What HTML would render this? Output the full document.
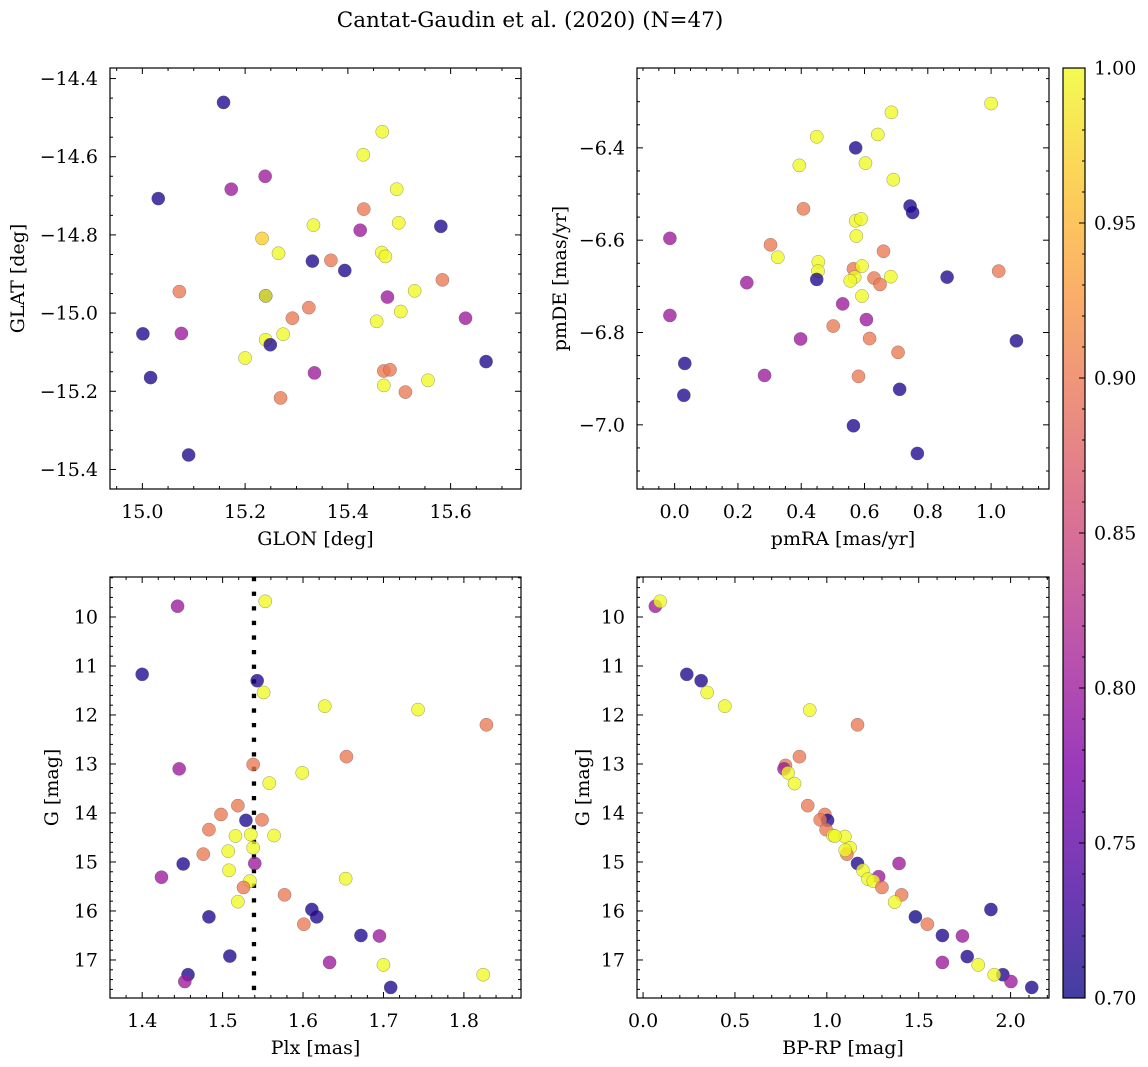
<!DOCTYPE html>
<html><head><meta charset="utf-8"><style>
body{margin:0;background:#fff;}
svg{display:block;font-family:"DejaVu Serif","Liberation Serif",serif;}
</style></head><body>
<svg id="fig" width="1148" height="1067" viewBox="0 0 1148 1067" xmlns="http://www.w3.org/2000/svg">
<text x="530" y="27" font-size="21.5" text-anchor="middle">Cantat-Gaudin et al. (2020) (N=47)</text>
</svg>
<script>
// ---- data ----
const glon = [15.158,15.031,15.173,15.239,15.467,15.430,15.495,15.431,15.333,15.499,15.581,15.424,15.233,15.265,15.331,15.367,15.394,15.466,15.473,15.584,15.072,15.240,15.240,15.530,15.477,15.324,15.292,15.001,15.076,15.503,15.456,15.629,15.274,15.240,15.249,15.200,15.016,15.335,15.470,15.482,15.669,15.470,15.556,15.512,15.269,15.090];
const glat = [-14.461,-14.707,-14.683,-14.650,-14.536,-14.595,-14.683,-14.734,-14.775,-14.769,-14.778,-14.788,-14.809,-14.847,-14.867,-14.865,-14.891,-14.845,-14.855,-14.915,-14.945,-14.956,-14.956,-14.943,-14.959,-14.986,-15.013,-15.053,-15.052,-14.996,-15.021,-15.013,-15.054,-15.068,-15.081,-15.115,-15.165,-15.153,-15.148,-15.145,-15.124,-15.185,-15.172,-15.202,-15.217,-15.363];
const prob1 = [0.71,0.71,0.80,0.80,1.0,1.0,1.0,0.90,1.0,1.0,0.71,0.80,0.97,1.0,0.71,0.90,0.71,1.0,1.0,0.90,0.90,0.71,1.0,1.0,0.80,0.90,0.90,0.71,0.80,1.0,1.0,0.80,1.0,1.0,0.71,1.0,0.71,0.80,0.90,0.90,0.71,1.0,1.0,0.90,0.90,0.71];

const pmra = [1.00,0.685,0.449,0.642,0.572,0.394,0.603,0.691,0.744,0.752,0.407,0.572,0.589,0.574,-0.015,0.303,0.660,0.326,0.454,0.453,0.449,0.565,0.592,0.569,0.555,0.630,0.649,0.683,0.861,1.024,0.228,0.592,0.531,-0.015,0.606,0.501,0.398,0.616,1.080,0.706,0.032,0.284,0.581,0.711,0.029,0.565,0.767];
const pmde = [-6.304,-6.323,-6.376,-6.371,-6.400,-6.438,-6.433,-6.469,-6.526,-6.540,-6.532,-6.558,-6.554,-6.591,-6.596,-6.610,-6.624,-6.637,-6.647,-6.667,-6.685,-6.662,-6.656,-6.680,-6.688,-6.682,-6.696,-6.679,-6.680,-6.667,-6.692,-6.721,-6.738,-6.763,-6.772,-6.786,-6.814,-6.813,-6.818,-6.843,-6.867,-6.893,-6.895,-6.923,-6.936,-7.002,-7.062];
const prob2 = [1.0,1.0,1.0,1.0,0.71,1.0,1.0,1.0,0.71,0.71,0.90,1.0,1.0,1.0,0.80,0.90,0.90,1.0,1.0,1.0,0.71,0.90,1.0,1.0,1.0,0.90,0.90,1.0,0.71,0.90,0.80,1.0,0.80,0.80,0.80,0.90,0.80,0.90,0.71,0.90,0.71,0.80,0.90,0.71,0.71,0.71,0.71];

const plx = [1.553,1.444,1.400,1.543,1.551,1.627,1.743,1.828,1.654,1.538,1.446,1.599,1.558,1.519,1.498,1.529,1.549,1.483,1.516,1.535,1.564,1.538,1.476,1.507,1.451,1.540,1.424,1.508,1.534,1.653,1.526,1.577,1.519,1.611,1.617,1.483,1.601,1.672,1.695,1.509,1.633,1.700,1.824,1.457,1.453,1.709];
const gmag3 = [9.68,9.78,11.17,11.30,11.54,11.82,11.89,12.20,12.85,13.01,13.10,13.18,13.39,13.85,14.03,14.15,14.14,14.34,14.47,14.44,14.46,14.71,14.84,14.78,15.04,15.03,15.31,15.17,15.39,15.34,15.52,15.67,15.81,15.97,16.12,16.12,16.27,16.50,16.51,16.92,17.05,17.10,17.30,17.30,17.44,17.56];
const prob3 = [1.0,0.80,0.71,0.71,1.0,1.0,1.0,0.90,0.90,0.90,0.80,1.0,1.0,0.90,0.90,0.71,0.90,0.90,1.0,1.0,1.0,1.0,0.90,1.0,0.71,0.80,0.80,1.0,1.0,1.0,0.90,0.90,1.0,0.71,0.71,0.71,0.90,0.71,0.80,0.71,0.80,1.0,1.0,0.71,0.80,0.71];
const plxLine = [1.539];

const bprp = [0.067,0.093,0.238,0.316,0.349,0.445,0.907,1.167,0.851,0.775,0.767,0.789,0.824,0.896,0.989,1.004,0.964,0.996,1.098,1.033,1.044,1.127,1.109,1.100,1.167,1.393,1.282,1.196,1.224,1.253,1.300,1.407,1.369,1.893,1.482,1.547,1.629,1.738,1.764,1.629,1.824,1.958,1.911,2.002,2.115];
const gmag4 = [9.78,9.68,11.17,11.30,11.54,11.82,11.90,12.20,12.85,13.03,13.10,13.18,13.40,13.85,14.03,14.15,14.14,14.34,14.48,14.46,14.47,14.71,14.84,14.76,15.03,15.03,15.30,15.17,15.35,15.39,15.52,15.67,15.82,15.97,16.12,16.27,16.50,16.51,16.93,17.05,17.10,17.30,17.30,17.44,17.56];
const prob4 = [0.80,1.0,0.71,0.71,1.0,1.0,1.0,0.90,0.90,0.90,0.80,1.0,1.0,0.90,0.90,0.71,0.90,0.90,1.0,1.0,1.0,1.0,0.90,1.0,0.71,0.80,0.80,1.0,1.0,1.0,0.90,0.90,1.0,0.71,0.70,0.90,0.71,0.80,0.71,0.80,1.0,0.71,1.0,0.80,0.71];

const xTicks1 = [15.0,15.2,15.4,15.6];
const yTicks1 = [-14.4,-14.6,-14.8,-15.0,-15.2,-15.4];
const xTicks2 = [0.0,0.2,0.4,0.6,0.8,1.0];
const yTicks2 = [-6.4,-6.6,-6.8,-7.0];
const xTicks3 = [1.4,1.5,1.6,1.7,1.8];
const gTicks = [10,11,12,13,14,15,16,17];
const xTicks4 = [0.0,0.5,1.0,1.5,2.0];
const cbTicks = [0.70,0.75,0.80,0.85,0.90,0.95,1.00];

// ---- rendering ----
const NS = "http://www.w3.org/2000/svg";
const svg = document.getElementById('fig');
const FS = 19;
function mk(tag, attrs, parent){
  const e = document.createElementNS(NS, tag);
  for (const k in attrs) e.setAttribute(k, attrs[k]);
  (parent||svg).appendChild(e);
  return e;
}
const stops = [[0,'#0d0887'],[0.125,'#4c02a1'],[0.25,'#7e03a8'],[0.375,'#a92395'],[0.5,'#cc4778'],[0.625,'#e56b5d'],[0.75,'#f89540'],[0.875,'#fdc328'],[1,'#f0f921']];
function hex(h){return [parseInt(h.slice(1,3),16),parseInt(h.slice(3,5),16),parseInt(h.slice(5,7),16)];}
function plasma(t){
  t=Math.max(0,Math.min(1,t));
  for(let i=0;i<stops.length-1;i++){
    if(t<=stops[i+1][0]){
      const f=(t-stops[i][0])/(stops[i+1][0]-stops[i][0]);
      const a=hex(stops[i][1]), b=hex(stops[i+1][1]);
      return 'rgb('+a.map((v,j)=>Math.round(v+(b[j]-v)*f)).join(',')+')';
    }
  }
  return stops[stops.length-1][1];
}
const vmin=0.7, vmax=1.0;
function fmt(v,d){return (v<0?'\u2212':'')+Math.abs(v).toFixed(d);}

function panel(o){
  const g = mk('g',{});
  
  
  const sx = v => o.x0 + (v-o.xd[0])/(o.xd[1]-o.xd[0])*(o.x1-o.x0);
  const sy = v => o.y0 + (v-o.yd[0])/(o.yd[1]-o.yd[0])*(o.y1-o.y0);
  const tk = mk('g',{stroke:'#000','stroke-width':1},g);
  
  
  const xlo=Math.min(...o.xd), xhi=Math.max(...o.xd), ylo=Math.min(...o.yd), yhi=Math.max(...o.yd);
  for(let v=Math.ceil(xlo/o.xm-1e-6)*o.xm; v<=xhi+1e-9; v+=o.xm){
    const x=sx(v); const major=o.xt.some(t=>Math.abs(t-v)<o.xm/3); const L=major?6:3;
    mk('line',{x1:x,x2:x,y1:o.y1,y2:o.y1-L},tk); mk('line',{x1:x,x2:x,y1:o.y0,y2:o.y0+L},tk);
  }
  for(let v=Math.ceil(ylo/o.ym-1e-6)*o.ym; v<=yhi+1e-9; v+=o.ym){
    const y=sy(v); const major=o.yt.some(t=>Math.abs(t-v)<o.ym/3); const L=major?6:3;
    mk('line',{x1:o.x0,x2:o.x0+L,y1:y,y2:y},tk); mk('line',{x1:o.x1,x2:o.x1-L,y1:y,y2:y},tk);
  }
  o.xt.forEach(v=>{
    const t=mk('text',{x:sx(v),y:o.y1+29,'font-size':FS,'text-anchor':'middle'},g);
    
    
    t.textContent=fmt(v,o.xdp);
  });
  o.yt.forEach(v=>{
    const t=mk('text',{x:o.x0-12,y:sy(v)+6.5,'font-size':FS,'text-anchor':'end'},g);
    
    
    t.textContent=fmt(v,o.ydp);
  });
  const xl=mk('text',{x:(o.x0+o.x1)/2,y:o.y1+56,'font-size':FS,'text-anchor':'middle'},g);
  
  
  xl.textContent=o.xlabel;
  const yl=mk('text',{x:0,y:0,'font-size':FS,'text-anchor':'middle',transform:'translate('+o.ylx+','+((o.y0+o.y1)/2)+') rotate(-90)'},g);
  
  
  yl.textContent=o.ylabel;
  const cid='clip'+o.name;
  const cp=mk('clipPath',{id:cid},g); mk('rect',{x:o.x0,y:o.y0,width:o.x1-o.x0,height:o.y1-o.y0},cp);
  const pts=mk('g',{'clip-path':'url(#'+cid+')'},g);
  
  
  if(o.vline){
    o.vline.forEach(v=>{
      const l=mk('line',{x1:sx(v),x2:sx(v),y1:o.y0,y2:o.y1,stroke:'#000','stroke-width':4.3,'stroke-dasharray':'4.3 10.3'},pts);
      
      
    });
  }
  for(let i=0;i<o.xs.length;i++){
    const c=mk('circle',{cx:sx(o.xs[i]),cy:sy(o.ys[i]),r:6.6,fill:plasma((o.cs[i]-vmin)/(vmax-vmin)),'fill-opacity':0.78,stroke:'#555','stroke-opacity':0.6,'stroke-width':0.5},pts);
    
    
  }
  mk('rect',{x:o.x0,y:o.y0,width:o.x1-o.x0,height:o.y1-o.y0,fill:'none',stroke:'#000','stroke-width':1.2},g);
}

panel({name:'glon-glat-panel',x0:110,x1:521,y0:68,y1:489,xd:[14.937,15.737],yd:[-14.373,-15.450],xt:xTicks1,yt:yTicks1,xm:0.05,ym:0.05,xdp:1,ydp:1,xs:glon,ys:glat,cs:prob1,xlabel:'GLON [deg]',ylabel:'GLAT [deg]',ylx:24});
panel({name:'pm-panel',x0:637,x1:1049,y0:68,y1:489,xd:[-0.119,1.183],yd:[-6.227,-7.139],xt:xTicks2,yt:yTicks2,xm:0.05,ym:0.05,xdp:1,ydp:1,xs:pmra,ys:pmde,cs:prob2,xlabel:'pmRA [mas/yr]',ylabel:'pmDE [mas/yr]',ylx:566});
panel({name:'plx-g-panel',x0:110,x1:521,y0:577,y1:998,xd:[1.360,1.871],yd:[9.184,17.776],xt:xTicks3,yt:gTicks,xm:0.02,ym:0.2,xdp:1,ydp:0,xs:plx,ys:gmag3,cs:prob3,xlabel:'Plx [mas]',ylabel:'G [mag]',ylx:58,vline:plxLine});
panel({name:'cmd-panel',x0:637,x1:1049,y0:577,y1:998,xd:[-0.033,2.209],yd:[9.184,17.776],xt:xTicks4,yt:gTicks,xm:0.1,ym:0.2,xdp:1,ydp:0,xs:bprp,ys:gmag4,cs:prob4,xlabel:'BP-RP [mag]',ylabel:'G [mag]',ylx:589});

// colorbar
const cb=mk('g',{});


const defs=mk('defs',{},cb);
const lg=mk('linearGradient',{id:'plasmaGrad',x1:0,y1:1,x2:0,y2:0},defs);
for(let i=0;i<=20;i++){mk('stop',{offset:i/20,'stop-color':plasma(i/20)},lg);}
const cx0=1063,cx1=1085,cy0=68,cy1=998;
mk('rect',{x:cx0,y:cy0,width:cx1-cx0,height:cy1-cy0,fill:'url(#plasmaGrad)','fill-opacity':0.78},cb);
mk('rect',{x:cx0,y:cy0,width:cx1-cx0,height:cy1-cy0,fill:'none',stroke:'#000','stroke-width':1.2},cb);
const cby=v=>cy1-(v-vmin)/(vmax-vmin)*(cy1-cy0);
for(let k=0;k<=30;k++){
  const v=vmin+k*0.01; const major=k%5===0; const L=major?6:3;
  mk('line',{x1:cx1,x2:cx1-L,y1:cby(v),y2:cby(v),stroke:'#000','stroke-width':1},cb);
}
cbTicks.forEach(v=>{
  const t=mk('text',{x:cx1+9,y:cby(v)+6.5,'font-size':FS},cb);
  
  
  t.textContent=v.toFixed(2);
});
</script>
</body></html>
